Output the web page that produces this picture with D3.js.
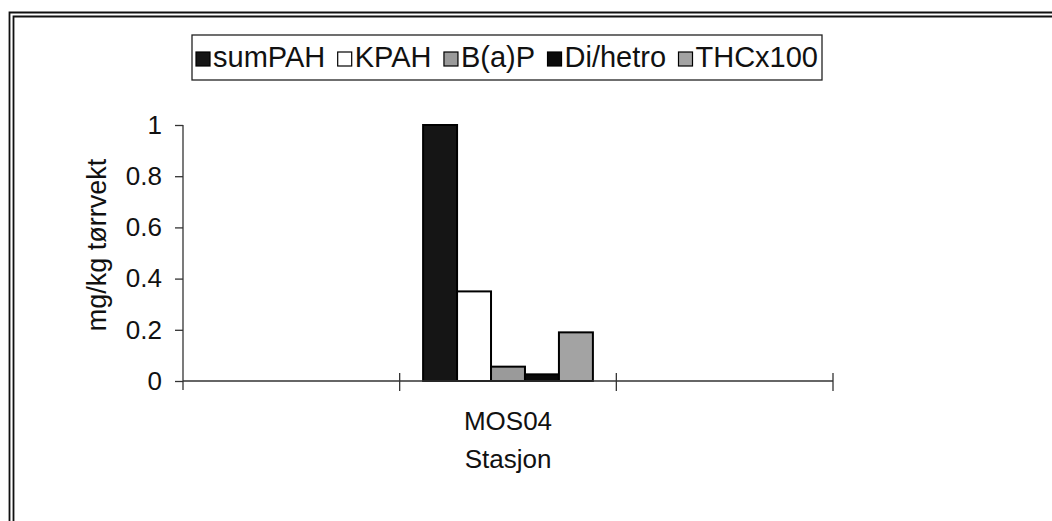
<!DOCTYPE html>
<html><head><meta charset="utf-8">
<script src="https://cdn.jsdelivr.net/npm/d3@7"></script>
<style>
body{margin:0;background:#fff;}
svg{display:block;}
text{font-family:"Liberation Sans",Arial,sans-serif;fill:#111;}
</style></head>
<body>
<script>
const stations = ["", "MOS04", ""];
const seriesNames = ["sumPAH", "KPAH", "B(a)P", "Di/hetro", "THCx100"];
const sumPAH  = [null, 1.0,   null];
const KPAH    = [null, 0.35,  null];
const BaP     = [null, 0.056, null];
const Dihetro = [null, 0.026, null];
const THCx100 = [null, 0.19,  null];
const yTicks = [0, 0.2, 0.4, 0.6, 0.8, 1];
const yTickLabels = ["0", "0.2", "0.4", "0.6", "0.8", "1"];
const yTitle = "mg/kg tørrvekt";
const xTitle = "Stasjon";

const seriesValues = [sumPAH, KPAH, BaP, Dihetro, THCx100];
const fills = ["#151515", "#ffffff", "#9a9a9a", "#0a0a0a", "#a3a3a3"];

const W = 1052, H = 521;
const svg = d3.select("body").append("svg").attr("width", W).attr("height", H);

// outer frame (double lines top and left)
const frame = svg.append("g").attr("stroke", "#111").attr("stroke-width", 1.8).attr("fill", "none");
frame.append("path").attr("d", `M9.5,${H} V12.5 H${W}`);
frame.append("path").attr("d", `M13.5,${H} V16.5 H${W}`);

const x0 = d3.scaleBand().domain(d3.range(stations.length)).range([183, 833]).paddingInner(0).paddingOuter(0);
const x1 = d3.scaleBand().domain(seriesNames).range([0, x0.bandwidth()]).paddingInner(0).paddingOuter(0.69);
const y = d3.scaleLinear().domain([0, 1]).range([381, 125]);

// bars
const data = [];
stations.forEach((s, i) => {
  seriesNames.forEach((n, j) => {
    const v = seriesValues[j][i];
    if (v != null) data.push({i, n, j, v});
  });
});
svg.append("g").selectAll("rect").data(data).join("rect")
  .attr("x", d => x0(d.i) + x1(d.n))
  .attr("y", d => y(d.v))
  .attr("width", x1.bandwidth())
  .attr("height", d => y(0) - y(d.v))
  .attr("fill", d => fills[d.j])
  .attr("stroke", "#000").attr("stroke-width", 2);

// y axis
const yAxis = d3.axisLeft(y).tickValues(yTicks).tickFormat((d, i) => yTickLabels[i]).tickSize(8).tickPadding(13);
const gy = svg.append("g").attr("transform", "translate(183,0)").call(yAxis);
gy.select(".domain").attr("d", "M0,125 V390").attr("stroke", "#333").attr("stroke-width", 1.3);
gy.selectAll(".tick line").attr("stroke", "#333").attr("stroke-width", 1.3);
gy.selectAll(".tick text").style("font-family", "Liberation Sans, Arial, sans-serif").style("font-size", "26px").attr("fill", "#111");

// x axis
const gx = svg.append("g").attr("transform", "translate(0,381)");
gx.append("line").attr("x1", 183).attr("x2", 833).attr("y1", 0).attr("y2", 0).attr("stroke", "#333").attr("stroke-width", 1.3);
const xTickPos = d3.range(stations.length + 1).map(k => k < stations.length ? x0(k) : x0(k - 1) + x0.bandwidth());
gx.selectAll("line.tk").data(xTickPos.slice(1)).join("line").attr("class", "tk")
  .attr("x1", d => d).attr("x2", d => d).attr("y1", -8).attr("y2", 10)
  .attr("stroke", "#333").attr("stroke-width", 1.3);
gx.selectAll("text").data(stations).join("text")
  .attr("x", (d, i) => x0(i) + x0.bandwidth() / 2).attr("y", 49)
  .attr("text-anchor", "middle").style("font-size", "26px").text(d => d);

// axis titles
svg.append("text").attr("x", 508).attr("y", 468).attr("text-anchor", "middle").style("font-size", "26px").text(xTitle);
svg.append("text").attr("transform", "translate(106,245) rotate(-90)").attr("text-anchor", "middle").style("font-size", "27px").text(yTitle);

// legend
const lg = svg.append("g");
lg.append("rect").attr("x", 192).attr("y", 35).attr("width", 630).attr("height", 45)
  .attr("fill", "#fff").attr("stroke", "#222").attr("stroke-width", 1.3);
const items = seriesNames.map((n, j) => {
  const g = lg.append("g");
  g.append("rect").attr("x", 0).attr("y", -15).attr("width", 14).attr("height", 14)
    .attr("fill", fills[j]).attr("stroke", "#000").attr("stroke-width", 1.2);
  const t = g.append("text").attr("x", 17).attr("y", 0).style("font-size", "29px").text(n);
  return {g, w: 17 + t.node().getComputedTextLength()};
});
const totalW = d3.sum(items, d => d.w);
const gap = (818 - 196 - totalW) / (items.length - 1);
let lx = 196;
items.forEach(it => { it.g.attr("transform", `translate(${lx},67)`); lx += it.w + gap; });
</script>
</body></html>
